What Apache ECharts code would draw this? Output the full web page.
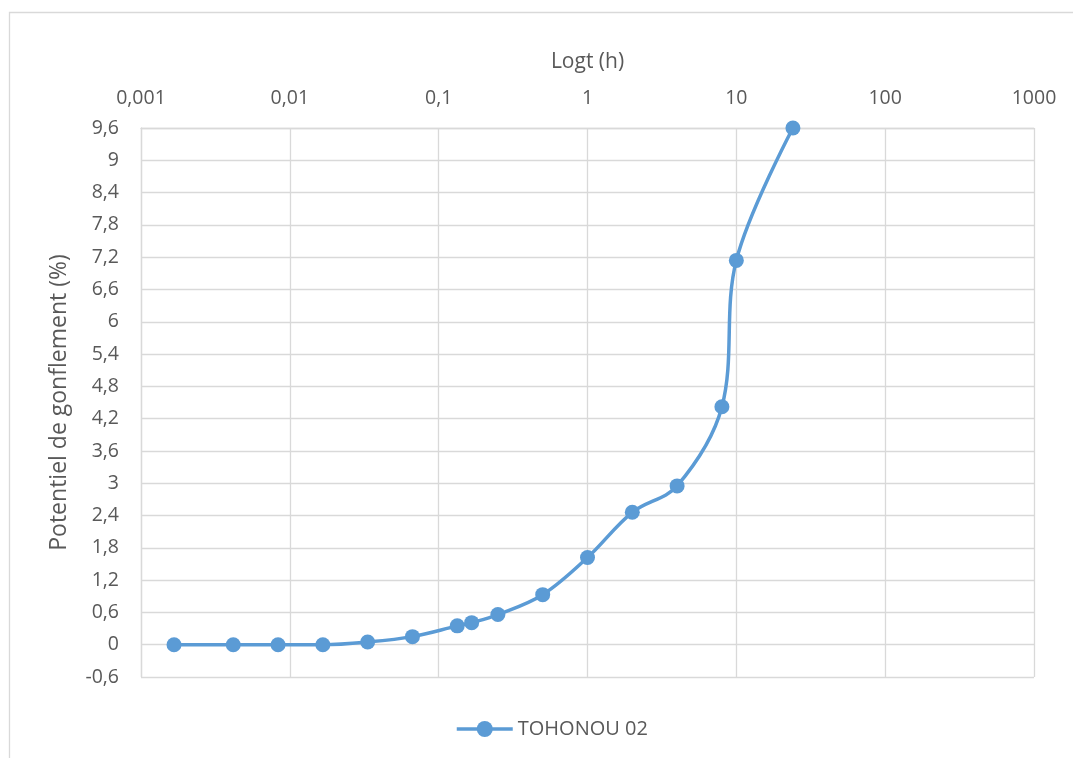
<!DOCTYPE html>
<html>
<head>
<meta charset="utf-8">
<script src="https://cdn.jsdelivr.net/npm/echarts@6/dist/echarts.min.js"></script>
<style>
html,body{margin:0;padding:0;background:#fff;}
#chart{width:1073px;height:758px;}
</style>
</head>
<body>
<div id="chart"></div>
<script>
// Time in hours (log scale) and swelling potential (%)
const timeHours = [0.001667, 0.004167, 0.008333, 0.016667, 0.033333, 0.066667, 0.133333, 0.166667, 0.25, 0.5, 1, 2, 4, 8, 10, 24];
const swelling = [0, 0, 0, 0, 0.05, 0.15, 0.35, 0.41, 0.56, 0.93, 1.62, 2.46, 2.95, 4.42, 7.14, 9.6];
const seriesName = 'TOHONOU 02';
const xAxisTitle = 'Logt (h)';
const yAxisTitle = 'Potentiel de gonflement (%)';

const FONT = '"Open Sans", sans-serif';
const TXT = '#595959';
const GRID = '#d9d9d9';
const BLUE = '#5b9bd5';

function fmtNum(v) {
  let r = Math.round(v * 100000) / 100000;
  return String(r).replace('.', ',');
}

const chart = echarts.init(document.getElementById('chart'), null, {renderer: 'canvas'});
chart.setOption({
  animation: false,
  backgroundColor: '#fff',
  textStyle: {fontFamily: FONT},
  graphic: [{
    type: 'rect', left: 7, top: 10, silent: true,
    shape: {x: 0, y: 0, width: 1200, height: 900},
    style: {fill: 'none', stroke: GRID, lineWidth: 1.3}
  }],
  grid: {left: 141, right: 39, top: 128, bottom: 81, containLabel: false},
  xAxis: {
    type: 'log', logBase: 10, min: 0.001, max: 1000, position: 'top',
    name: xAxisTitle, nameLocation: 'middle', nameGap: 55,
    nameTextStyle: {color: TXT, fontSize: 21, fontFamily: FONT},
    axisLine: {show: true, onZero: false, lineStyle: {color: GRID, width: 1.3}},
    axisTick: {show: false},
    minorTick: {show: false},
    splitLine: {show: true, lineStyle: {color: GRID, width: 1.3}},
    axisLabel: {color: TXT, fontSize: 19.5, fontFamily: FONT, margin: 20, formatter: v => fmtNum(v)}
  },
  yAxis: {
    type: 'value', min: -0.6, max: 9.6, interval: 0.6,
    name: yAxisTitle, nameLocation: 'middle', nameGap: 70, nameRotate: 90,
    nameTextStyle: {color: TXT, fontSize: 23, fontFamily: FONT},
    axisLine: {show: true, lineStyle: {color: GRID, width: 1.3}},
    axisTick: {show: false},
    splitLine: {show: true, lineStyle: {color: GRID, width: 1.3}},
    axisLabel: {color: TXT, fontSize: 19.5, fontFamily: FONT, margin: 22, formatter: v => fmtNum(v)}
  },
  legend: {
    bottom: 14, left: 450,
    itemWidth: 56, itemHeight: 20, itemGap: 8,
    textStyle: {color: TXT, fontSize: 20, fontFamily: FONT},
    lineStyle: {width: 3.5, color: BLUE},
    data: [seriesName]
  },
  series: [{
    name: seriesName, type: 'line',
    data: timeHours.map((t, i) => [t, swelling[i]]),
    smooth: 0.35,
    symbol: 'circle', symbolSize: 15,
    lineStyle: {color: BLUE, width: 3.5},
    itemStyle: {color: BLUE},
    z: 5
  }]
});
</script>
</body>
</html>
